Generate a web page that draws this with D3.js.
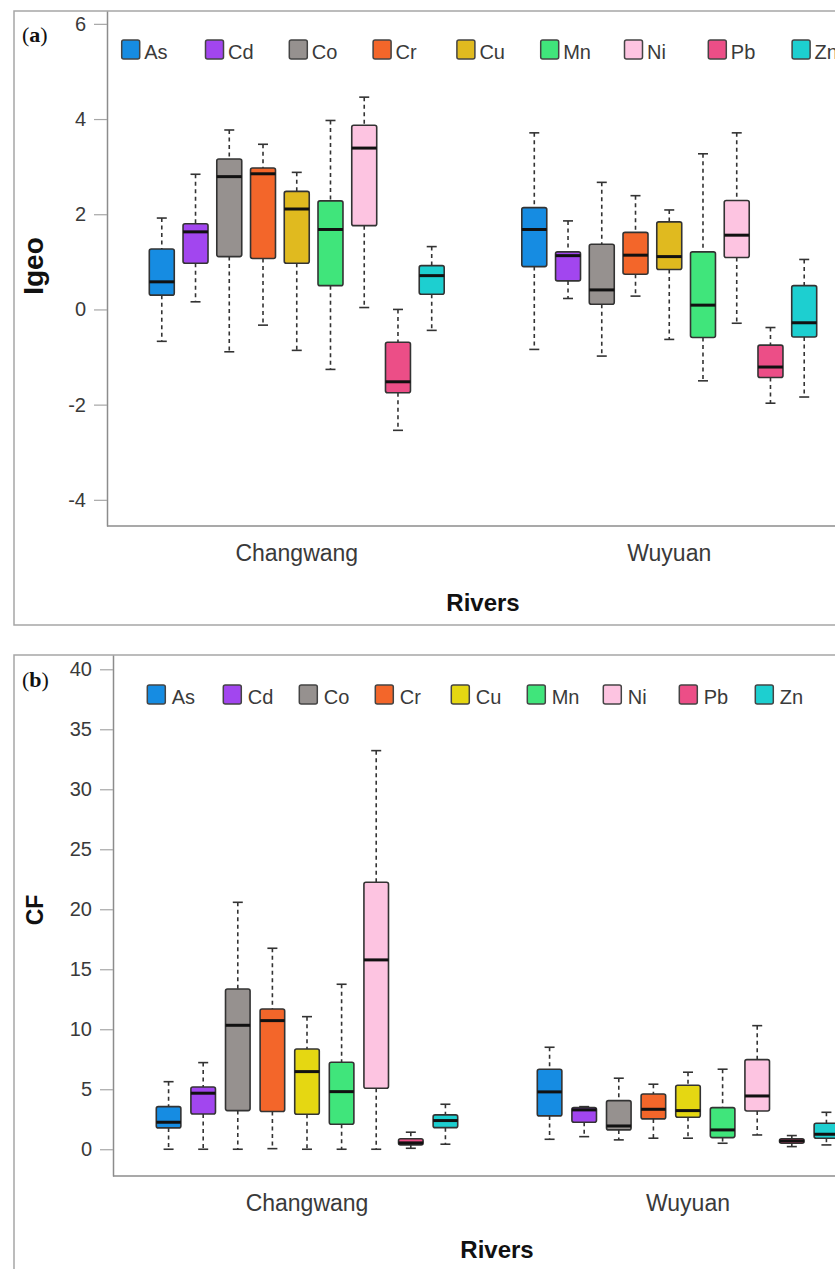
<!DOCTYPE html>
<html>
<head>
<meta charset="utf-8">
<script src="https://cdn.jsdelivr.net/npm/d3@7"></script>
<style>
  body { margin: 0; background: #fff; }
  svg { display: block; font-family: Arial, "Liberation Sans", sans-serif; }
</style>
</head>
<body>
<div id="canvas"></div>
<script>
const elements = ['As', 'Cd', 'Co', 'Cr', 'Cu', 'Mn', 'Ni', 'Pb', 'Zn'];
const rivers = ['Changwang', 'Wuyuan'];

// [min, q1, median, q3, max] per element
const igeoChangwang = [
  [-0.67, 0.30, 0.58, 1.27, 1.92],
  [0.16, 0.97, 1.63, 1.80, 2.84],
  [-0.89, 1.11, 2.79, 3.16, 3.77],
  [-0.33, 1.07, 2.85, 2.97, 3.47],
  [-0.86, 0.97, 2.11, 2.48, 2.88],
  [-1.26, 0.50, 1.68, 2.28, 3.97],
  [0.04, 1.76, 3.39, 3.87, 4.46],
  [-2.54, -1.75, -1.52, -0.69, 0.00],
  [-0.44, 0.32, 0.71, 0.92, 1.32]
];
const igeoWuyuan = [
  [-0.84, 0.90, 1.68, 2.14, 3.71],
  [0.23, 0.60, 1.13, 1.21, 1.86],
  [-0.98, 0.11, 0.41, 1.37, 2.67],
  [0.28, 0.74, 1.14, 1.62, 2.39],
  [-0.63, 0.84, 1.11, 1.84, 2.09],
  [-1.50, -0.59, 0.09, 1.21, 3.27],
  [-0.29, 1.09, 1.56, 2.29, 3.71],
  [-1.97, -1.43, -1.21, -0.75, -0.38],
  [-1.84, -0.58, -0.28, 0.50, 1.05]
];
const cfChangwang = [
  [0.00, 1.78, 2.25, 3.55, 5.63],
  [0.00, 2.94, 4.67, 5.19, 7.22],
  [0.00, 3.22, 10.33, 13.36, 20.58],
  [0.05, 3.14, 10.72, 11.69, 16.75],
  [0.00, 2.92, 6.47, 8.36, 11.05],
  [0.00, 2.08, 4.80, 7.25, 13.75],
  [0.00, 5.08, 15.78, 22.25, 33.22],
  [0.08, 0.36, 0.53, 0.88, 1.42],
  [0.42, 1.80, 2.39, 2.86, 3.75]
];
const cfWuyuan = [
  [0.83, 2.78, 4.78, 6.67, 8.50],
  [1.05, 2.25, 3.28, 3.47, 3.55],
  [0.78, 1.61, 1.94, 4.05, 5.92],
  [0.92, 2.53, 3.33, 4.61, 5.42],
  [0.92, 2.67, 3.22, 5.33, 6.42],
  [0.50, 0.97, 1.61, 3.47, 6.67],
  [1.19, 3.19, 4.44, 7.47, 10.30],
  [0.22, 0.50, 0.69, 0.88, 1.14],
  [0.36, 0.92, 1.25, 2.17, 3.08]
];

const igeoTicks = [-4, -2, 0, 2, 4, 6];
const cfTicks = [0, 5, 10, 15, 20, 25, 30, 35, 40];

const colorsA = ['#168ce2', '#a246ef', '#96918f', '#f3662a', '#e0ba1f', '#40e57b', '#fdc4e1', '#ec4e87', '#1dcfd0'];
const colorsB = ['#168ce2', '#a246ef', '#96918f', '#f3662a', '#e5d712', '#40e57b', '#fdc4e1', '#ec4e87', '#1dcfd0'];

const svg = d3.select('#canvas')
  .append('svg')
  .attr('width', 835)
  .attr('height', 1269);

function draw_panel(p) {
  const g = svg.append('g');

  // panel frame
  g.append('rect')
    .attr('x', 14).attr('y', p.top)
    .attr('width', 900).attr('height', p.bottom - p.top)
    .attr('fill', 'none').attr('stroke', '#a6a6a6').attr('stroke-width', 1.5);

  const y = d3.scaleLinear().domain(p.yDomain).range([p.baseY, p.top]);
  const x = d3.scaleBand().domain(rivers).range(p.xRange);
  const xi = d3.scaleBand().domain(elements).range([0, x.bandwidth()])
    .paddingInner(p.padIn).paddingOuter(1.15);

  // y axis
  const yAxis = g.append('g')
    .attr('transform', `translate(${p.axisX},0)`)
    .call(d3.axisLeft(y).tickValues(p.ticks).tickFormat(d => String(d))
      .tickSize(13).tickSizeOuter(0).tickPadding(8));
  yAxis.select('.domain').attr('stroke', '#8c8c8c').attr('stroke-width', 1.5);
  yAxis.selectAll('.tick line').attr('stroke', '#a6a6a6').attr('stroke-width', 1.2);
  yAxis.selectAll('.tick text').attr('font-size', 20).attr('fill', '#3a3a3a')
    .attr('font-family', 'Arial, "Liberation Sans", sans-serif');

  // x axis
  g.append('line')
    .attr('x1', p.axisX).attr('x2', 900)
    .attr('y1', p.baseY).attr('y2', p.baseY)
    .attr('stroke', '#8c8c8c').attr('stroke-width', 1.5);
  const xAxis = g.append('g')
    .attr('transform', `translate(0,${p.baseY})`)
    .call(d3.axisBottom(x).tickSize(0).tickPadding(p.catPad));
  xAxis.select('.domain').remove();
  xAxis.selectAll('.tick text').attr('font-size', 23).attr('fill', '#3a3a3a')
    .attr('font-family', 'Arial, "Liberation Sans", sans-serif');

  // boxes
  rivers.forEach((r, ri) => {
    const stats = p.data[ri];
    const grp = g.append('g').attr('transform', `translate(${x(r)},0)`);
    const bw = xi.bandwidth();
    const boxes = grp.selectAll('g.box')
      .data(elements.map((e, i) => ({ e, s: stats[i], c: p.colors[i] })))
      .enter().append('g')
      .attr('class', 'box')
      .attr('transform', d => `translate(${xi(d.e)},0)`);

    // whiskers
    boxes.append('line')
      .attr('x1', bw / 2).attr('x2', bw / 2)
      .attr('y1', d => y(d.s[4])).attr('y2', d => y(d.s[3]))
      .attr('stroke', '#333').attr('stroke-width', 1.6).attr('stroke-dasharray', '4,3.5');
    boxes.append('line')
      .attr('x1', bw / 2).attr('x2', bw / 2)
      .attr('y1', d => y(d.s[1])).attr('y2', d => y(d.s[0]))
      .attr('stroke', '#333').attr('stroke-width', 1.6).attr('stroke-dasharray', '4,3.5');
    [0, 4].forEach(k => {
      boxes.append('line')
        .attr('x1', bw / 2 - 5).attr('x2', bw / 2 + 5)
        .attr('y1', d => y(d.s[k])).attr('y2', d => y(d.s[k]))
        .attr('stroke', '#333').attr('stroke-width', 1.6);
    });

    boxes.append('rect')
      .attr('x', 0).attr('width', bw)
      .attr('y', d => y(d.s[3]))
      .attr('height', d => y(d.s[1]) - y(d.s[3]))
      .attr('rx', 2)
      .attr('fill', d => d.c)
      .attr('stroke', '#333').attr('stroke-width', 1.6);

    boxes.append('line')
      .attr('x1', 0).attr('x2', bw)
      .attr('y1', d => y(d.s[2])).attr('y2', d => y(d.s[2]))
      .attr('stroke', '#111').attr('stroke-width', 3);
  });

  // legend
  const leg = g.selectAll('g.leg')
    .data(elements.map((e, i) => ({ e, c: p.colors[i] })))
    .enter().append('g')
    .attr('class', 'leg')
    .attr('transform', (d, i) => `translate(${p.legX + i * p.legStep},${p.legY})`);
  leg.append('rect')
    .attr('x', 0).attr('y', -19).attr('width', 18).attr('height', 19).attr('rx', 2)
    .attr('fill', d => d.c).attr('stroke', '#444').attr('stroke-width', 1.5);
  leg.append('text')
    .attr('x', p.legTextDx).attr('y', 0)
    .attr('font-size', 20).attr('fill', '#3a3a3a')
    .text(d => d.e);

  // axis titles
  g.append('text')
    .attr('transform', `translate(${p.yTitleX},${p.yTitleY}) rotate(-90)`)
    .attr('text-anchor', 'middle')
    .attr('font-size', p.yTitleSize).attr('font-weight', 'bold').attr('fill', '#111')
    .text(p.yTitle);
  g.append('text')
    .attr('x', p.riversX).attr('y', p.riversY)
    .attr('text-anchor', 'middle')
    .attr('font-size', 24).attr('font-weight', 'bold').attr('fill', '#111')
    .text('Rivers');

  // panel tag
  const tag = g.append('text')
    .attr('x', 22).attr('y', p.tagY)
    .attr('font-family', '"Liberation Serif", "Times New Roman", serif')
    .attr('font-size', 22).attr('fill', '#111');
  tag.append('tspan').text('(');
  tag.append('tspan').attr('font-weight', 'bold').text(p.tag);
  tag.append('tspan').text(')');
}

draw_panel({
  top: 11, bottom: 625, baseY: 526, axisX: 107,
  yDomain: [-4.55, 6.27], ticks: igeoTicks,
  xRange: [110.5, 855.5], padIn: 0.26, catPad: 19,
  data: [igeoChangwang, igeoWuyuan], colors: colorsA,
  legX: 121.7, legStep: 83.8, legY: 59, legTextDx: 22.5,
  yTitle: 'Igeo', yTitleX: 43, yTitleY: 266, yTitleSize: 28,
  riversX: 483, riversY: 611,
  tag: 'a', tagY: 42
});

draw_panel({
  top: 655, bottom: 1300, baseY: 1176, axisX: 113,
  yDomain: [-2.23, 41.19], ticks: cfTicks,
  xRange: [116.5, 878.5], padIn: 0.29, catPad: 18.5,
  data: [cfChangwang, cfWuyuan], colors: colorsB,
  legX: 147.3, legStep: 76, legY: 704, legTextDx: 24.4,
  yTitle: 'CF', yTitleX: 43, yTitleY: 910, yTitleSize: 23,
  riversX: 497, riversY: 1258,
  tag: 'b', tagY: 687
});
</script>
</body>
</html>
